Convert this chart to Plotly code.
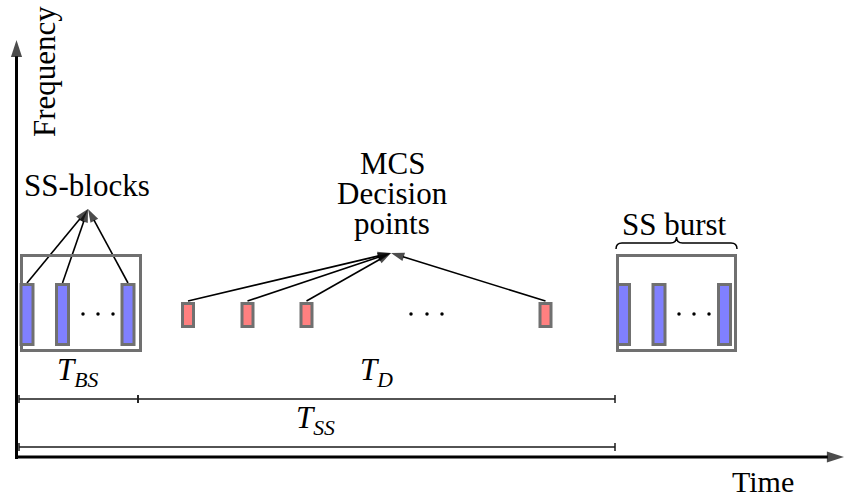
import plotly.graph_objects as go

# ---------------- data (diagram layout in time/frequency units) ----------------
burst1_blocks = [27, 62.5, 128]          # SS-block positions, first burst
burst2_blocks = [623.5, 659, 724.5]      # SS-block positions, second burst
mcs_points = [188, 247.5, 306.5, 545.5]  # MCS decision points
ellipsis_ss1 = [83, 98, 113]
ellipsis_ss2 = [679, 694, 709]
ellipsis_mcs = [411, 427, 442]
burst_windows = [(21.5, 140.5), (617.5, 735.5)]
span_tbs = (19, 138)
span_td = (138, 615)
span_tss = (19, 615)
mcs_label_lines = ["MCS", "Decision", "points"]

FONT = "Liberation Serif"
GRAY = "#707070"
BLUE = "#8080ff"
RED = "#ff8080"
FS = 31

fig = go.Figure()
shapes = []
ann = []

# burst windows
for x0, x1 in burst_windows:
    shapes.append(dict(type="rect", xref="x", yref="y", x0=x0, x1=x1, y0=255.5, y1=350.5,
                       line=dict(color=GRAY, width=3), fillcolor="rgba(0,0,0,0)"))

# SS blocks
for cx in burst1_blocks + burst2_blocks:
    shapes.append(dict(type="rect", xref="x", yref="y", x0=cx - 6, x1=cx + 6, y0=284.5, y1=344.5,
                       line=dict(color=GRAY, width=3), fillcolor=BLUE))

# MCS decision points
for cx in mcs_points:
    shapes.append(dict(type="rect", xref="x", yref="y", x0=cx - 5.5, x1=cx + 5.5, y0=303.5, y1=326.5,
                       line=dict(color=GRAY, width=3), fillcolor=RED))

# ellipsis dots
dots_x = ellipsis_ss1 + ellipsis_ss2 + ellipsis_mcs
fig.add_trace(go.Scatter(x=dots_x, y=[314] * len(dots_x), mode="markers",
                         marker=dict(color="black", size=3.5), hoverinfo="skip", showlegend=False))


def arrow(x0, y0, x1, y1, width, head):
    fig.add_trace(go.Scatter(
        x=[x0, x1], y=[y0, y1], mode="lines+markers",
        line=dict(color="black", width=width),
        marker=dict(symbol=["circle", "arrow"], size=[0, head], color="black",
                    angleref="previous", line=dict(width=0)),
        hoverinfo="skip", showlegend=False))


# arrows from SS-blocks to label
for cx in burst1_blocks:
    arrow(cx, 283, 88, 209, 1.6, 14)
# arrows from MCS points to label
for cx in mcs_points:
    arrow(cx, 301, 391, 253, 1.6, 14)

# axes with arrows
arrow(16.5, 459, 16.5, 40, 3, 18)
arrow(15, 457, 844, 457, 3, 18)

# dimension lines
def dim_line(x0, x1, y):
    shapes.append(dict(type="line", xref="x", yref="y", x0=x0, x1=x1, y0=y, y1=y,
                       line=dict(color="#1a1a1a", width=1.5)))
    for xx in (x0, x1):
        shapes.append(dict(type="line", xref="x", yref="y", x0=xx, x1=xx, y0=y - 4, y1=y + 4,
                           line=dict(color="#1a1a1a", width=1.5)))

dim_line(*span_tbs, 399)
dim_line(*span_td, 399)
dim_line(*span_tss, 447)

# brace over SS burst
bx0, bx1 = burst_windows[1][0] - 1.5, burst_windows[1][1] + 1.5
bm = (bx0 + bx1) / 2
path = (f"M {bx0},249 Q {bx0},243 {bx0+6},243 L {bm-6},243 Q {bm},243 {bm},237 "
        f"Q {bm},243 {bm+6},243 L {bx1-6},243 Q {bx1},243 {bx1},249")
shapes.append(dict(type="path", xref="x", yref="y", path=path, line=dict(color="black", width=1.5)))

# text labels
def label(x, y, t, size=FS, angle=0, yanchor="middle"):
    ann.append(dict(x=x, y=y, xref="x", yref="y", text=t, showarrow=False, textangle=angle,
                    xanchor="center", yanchor=yanchor,
                    font=dict(family=FONT, size=size, color="black")))

label(87, 185, "SS-blocks")
for t, yy in zip(mcs_label_lines, [163, 193, 223]):
    label(392, yy, t)
label(674, 224, "SS burst")
label(44, 72, "Frequency", angle=-90)
label(763, 500, "Time", size=30, yanchor="bottom")
label(77, 372, "<i>T</i><sub><i>BS</i></sub>")
label(376, 372, "<i>T</i><sub><i>D</i></sub>")
label(315, 420, "<i>T</i><sub><i>SS</i></sub>")

fig.update_layout(
    width=845, height=501, margin=dict(l=0, r=0, t=0, b=0),
    font=dict(family=FONT, size=FS, color="black"),
    paper_bgcolor="white", plot_bgcolor="white",
    xaxis=dict(range=[0, 845], visible=False, fixedrange=True),
    yaxis=dict(range=[501, 0], visible=False, fixedrange=True),
    shapes=shapes, annotations=ann, showlegend=False,
)
fig.write_html("out.html", post_script="document.body.style.margin='0';",
               config={"displayModeBar": False})
